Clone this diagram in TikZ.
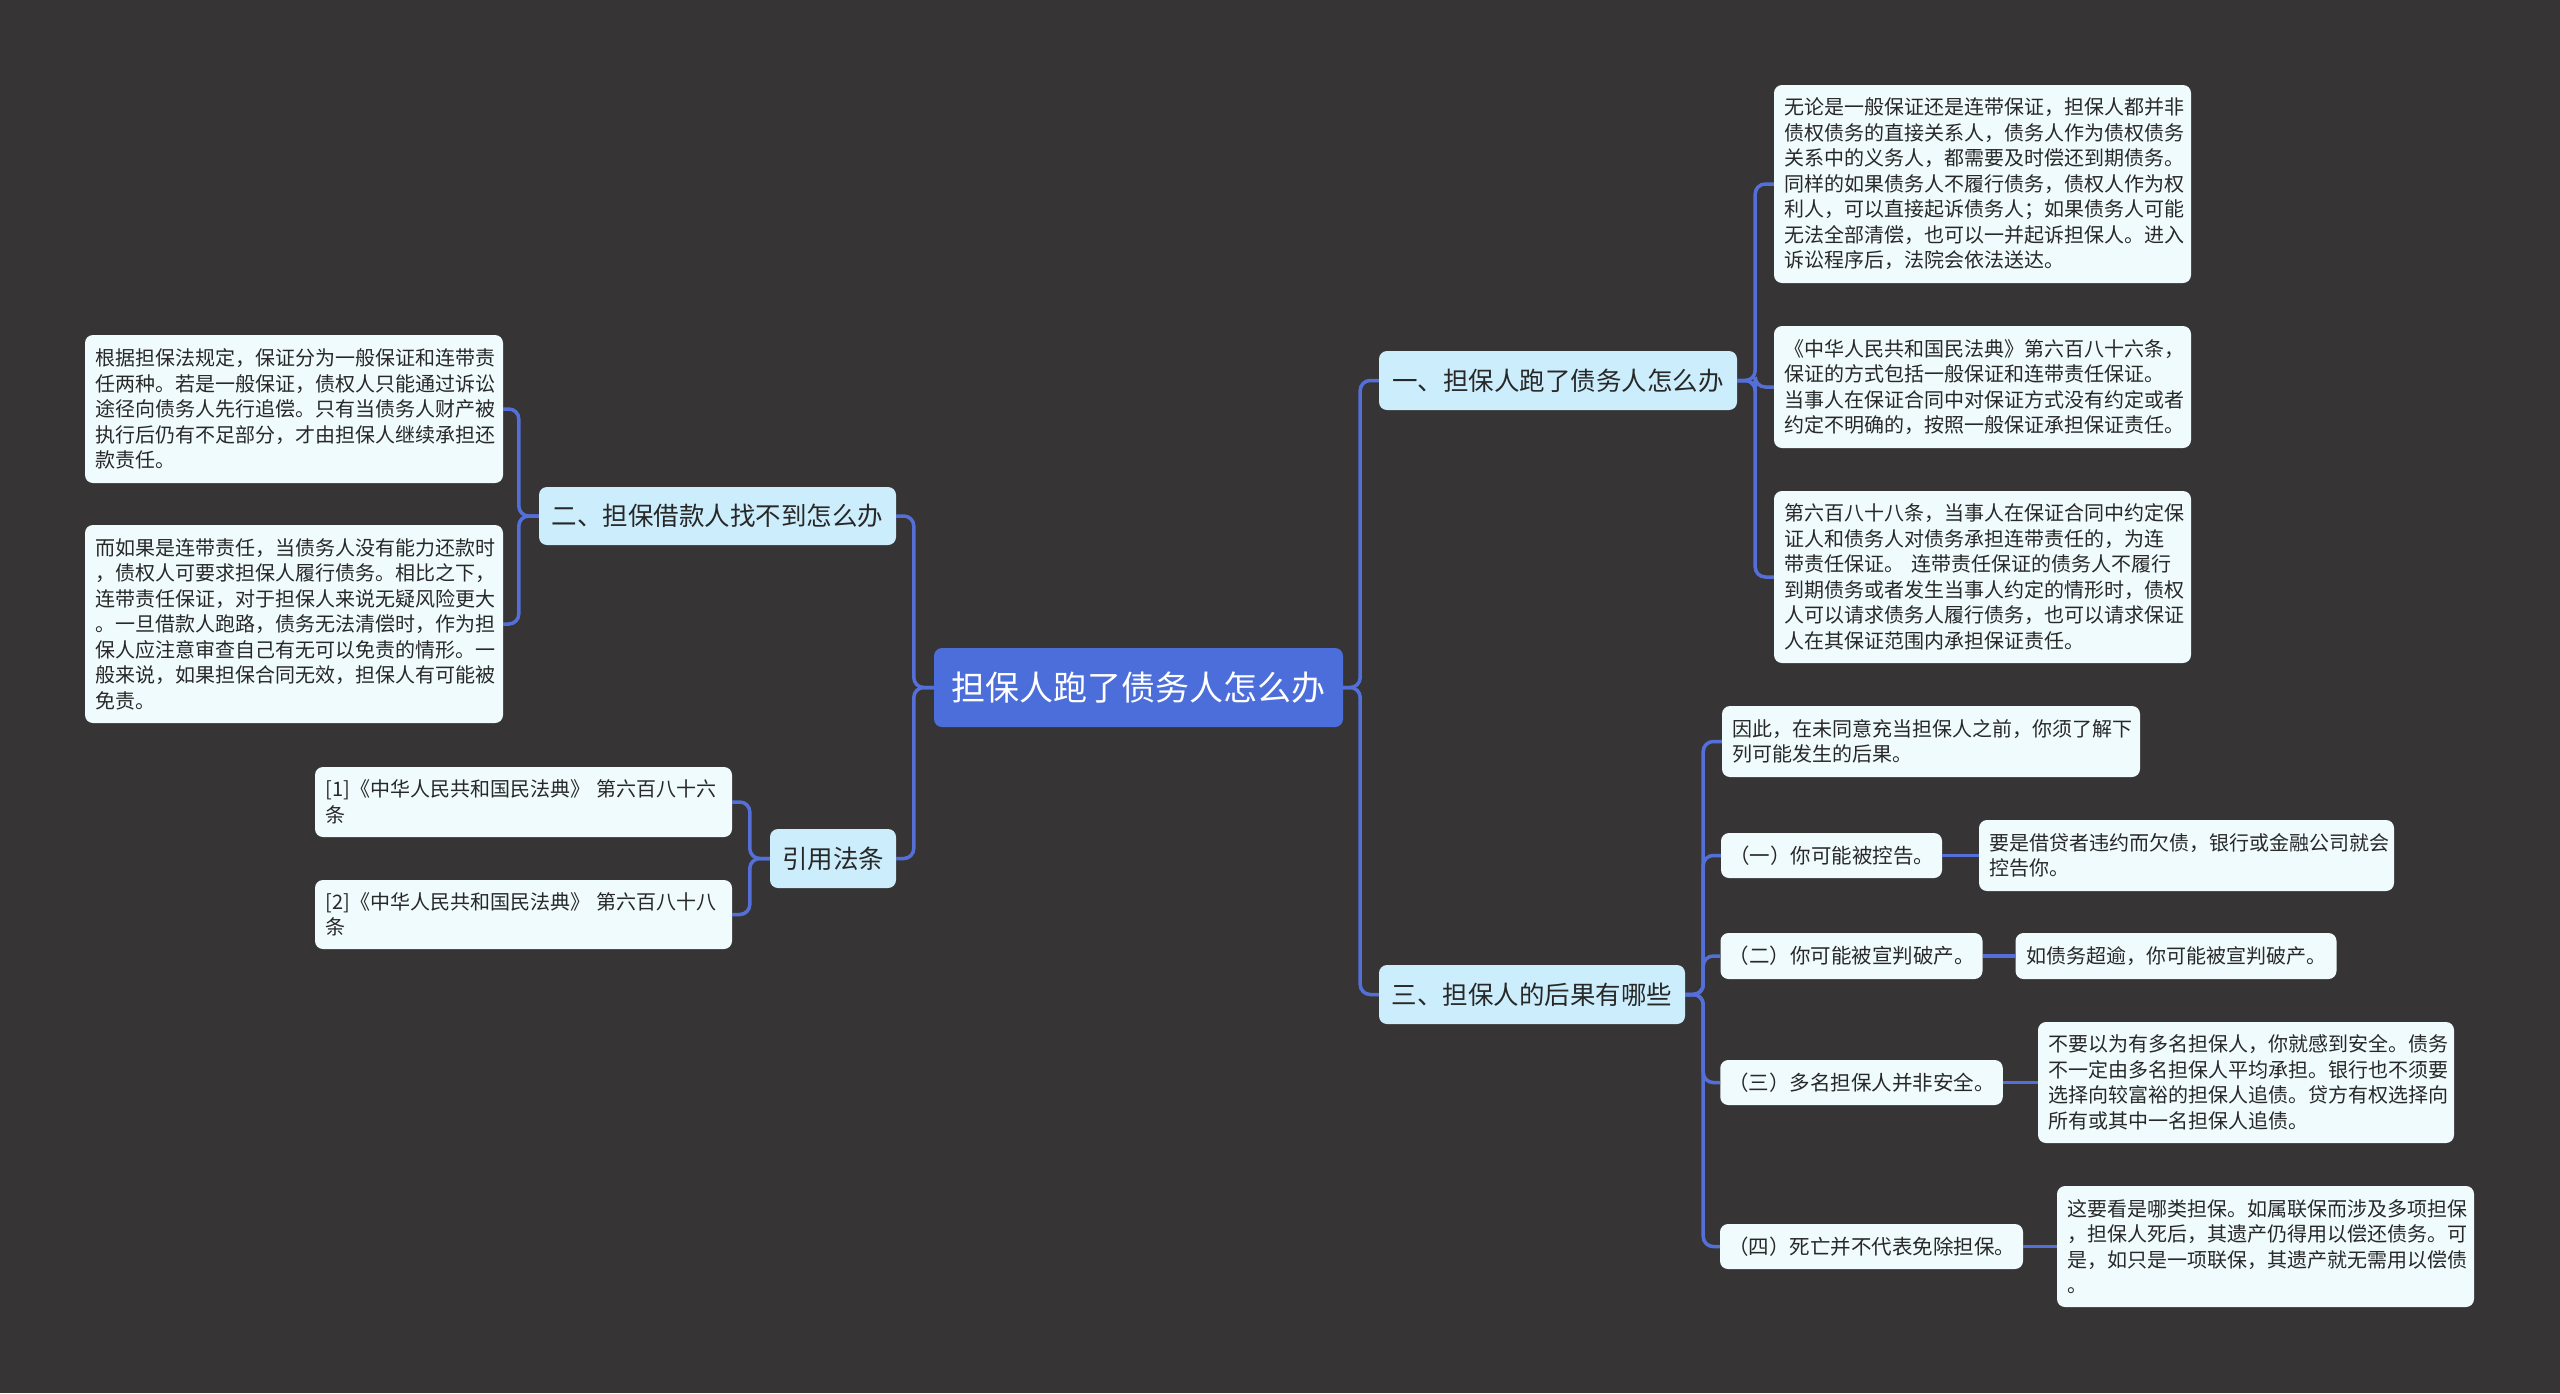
\documentclass[tikz,border=0pt]{standalone}
\usepackage{fontspec}
\setmainfont{Noto Sans CJK SC}
\definecolor{bgc}{RGB}{54,52,53}
\definecolor{rootc}{RGB}{76,110,219}
\definecolor{lvlc}{RGB}{204,238,252}
\definecolor{leafc}{RGB}{240,251,254}
\definecolor{linec}{RGB}{84,112,216}
\definecolor{txtc}{RGB}{40,40,40}
\begin{document}
\begin{tikzpicture}[x=1pt,y=-1pt,
  base/.style={rounded corners=8pt, inner xsep=8pt, inner ysep=3pt},
  rootbox/.style={base, fill=rootc, text=white, font=\fontsize{34}{40}\selectfont},
  lvlbox/.style={base, fill=lvlc, text=txtc, font=\fontsize{25.5}{30}\selectfont},
  leafbox/.style={base, inner xsep=10.5pt, fill=leafc, text=txtc, font=\fontsize{20}{25.5}\selectfont, align=left},
  midbox/.style={base, fill=leafc, text=txtc, font=\fontsize{20.5}{25}\selectfont, align=center},
  conn/.style={draw=linec, line width=3.5pt, rounded corners=10pt}]
\path[fill=bgc] (0,0) rectangle (2560,1393);

% root and first level
\node[rootbox, minimum width=409pt, minimum height=79pt] (root) at (1138.5,687.5) {担保人跑了债务人怎么办};
\node[lvlbox, minimum width=358pt, minimum height=59pt] (n1) at (1558,380.5) {一、担保人跑了债务人怎么办};
\node[lvlbox, minimum width=357pt, minimum height=58pt] (n2) at (717.5,516) {二、担保借款人找不到怎么办};
\node[lvlbox, minimum width=306pt, minimum height=59pt] (n3) at (1532,994.5) {三、担保人的后果有哪些};
\node[lvlbox, minimum width=126pt, minimum height=59pt] (n4) at (833,858.5) {引用法条};

% children of n1
\node[leafbox, minimum width=417pt, minimum height=198pt, text width=396pt] (r1) at (1982.5,184) {无论是一般保证还是连带保证，担保人都并非\\债权债务的直接关系人，债务人作为债权债务\\关系中的义务人，都需要及时偿还到期债务。\\同样的如果债务人不履行债务，债权人作为权\\利人，可以直接起诉债务人；如果债务人可能\\无法全部清偿，也可以一并起诉担保人。进入\\诉讼程序后，法院会依法送达。};
\node[leafbox, minimum width=417pt, minimum height=122pt, text width=396pt] (r2) at (1982.5,387) {《中华人民共和国民法典》第六百八十六条，\\保证的方式包括一般保证和连带责任保证。\\当事人在保证合同中对保证方式没有约定或者\\约定不明确的，按照一般保证承担保证责任。};
\node[leafbox, minimum width=417pt, minimum height=172pt, text width=396pt] (r3) at (1982.5,577) {第六百八十八条，当事人在保证合同中约定保\\证人和债务人对债务承担连带责任的，为连\\带责任保证。~连带责任保证的债务人不履行\\到期债务或者发生当事人约定的情形时，债权\\人可以请求债务人履行债务，也可以请求保证\\人在其保证范围内承担保证责任。};

% children of n2
\node[leafbox, minimum width=418pt, minimum height=148pt, text width=397pt] (l1) at (294,409) {根据担保法规定，保证分为一般保证和连带责\\任两种。若是一般保证，债权人只能通过诉讼\\途径向债务人先行追偿。只有当债务人财产被\\执行后仍有不足部分，才由担保人继续承担还\\款责任。};
\node[leafbox, minimum width=418pt, minimum height=198pt, text width=397pt] (l2) at (294,624) {而如果是连带责任，当债务人没有能力还款时\\，债权人可要求担保人履行债务。相比之下，\\连带责任保证，对于担保人来说无疑风险更大\\。一旦借款人跑路，债务无法清偿时，作为担\\保人应注意审查自己有无可以免责的情形。一\\般来说，如果担保合同无效，担保人有可能被\\免责。};

% children of n4
\node[leafbox, minimum width=417pt, minimum height=70pt, text width=396pt] (c1) at (523.5,802) {[1]《中华人民共和国民法典》~第六百八十六\\条};
\node[leafbox, minimum width=417pt, minimum height=69pt, text width=396pt] (c2) at (523.5,914.5) {[2]《中华人民共和国民法典》~第六百八十八\\条};

% children of n3
\node[leafbox, minimum width=418pt, minimum height=71pt, text width=397pt] (s0) at (1931,741.5) {因此，在未同意充当担保人之前，你须了解下\\列可能发生的后果。};
\node[midbox, minimum width=219pt, minimum height=45pt] (s1) at (1831.5,855.5) {（一）你可能被控告。};
\node[midbox, minimum width=257pt, minimum height=46pt] (s2) at (1851.5,956) {（二）你可能被宣判破产。};
\node[midbox, minimum width=277pt, minimum height=45pt] (s3) at (1861.5,1082.5) {（三）多名担保人并非安全。};
\node[midbox, minimum width=297pt, minimum height=45pt] (s4) at (1871.5,1246.5) {（四）死亡并不代表免除担保。};

\node[leafbox, minimum width=415pt, minimum height=71pt, text width=394pt] (t1) at (2186.5,855.5) {要是借贷者违约而欠债，银行或金融公司就会\\控告你。};
\node[leafbox, minimum width=316pt, minimum height=46pt, text width=300pt] (t2) at (2176,956) {如债务超逾，你可能被宣判破产。};
\node[leafbox, minimum width=416pt, minimum height=121pt, text width=395pt] (t3) at (2246,1082.5) {不要以为有多名担保人，你就感到安全。债务\\不一定由多名担保人平均承担。银行也不须要\\选择向较富裕的担保人追债。贷方有权选择向\\所有或其中一名担保人追债。};
\node[leafbox, minimum width=417pt, minimum height=121pt, text width=396pt] (t4) at (2265.5,1246.5) {这要看是哪类担保。如属联保而涉及多项担保\\，担保人死后，其遗产仍得用以偿还债务。可\\是，如只是一项联保，其遗产就无需用以偿债\\。};

% connectors
\draw[conn] (root.east) -- ++(17,0) |- (n1.west);
\draw[conn] (root.east) -- ++(17,0) |- (n3.west);
\draw[conn] (root.west) -- ++(-20,0) |- (n2.east);
\draw[conn] (root.west) -- ++(-20,0) |- (n4.east);
\draw[conn] (n1.east) -- ++(18,0) |- (r1.west);
\draw[conn] (n1.east) -- ++(18,0) |- (r2.west);
\draw[conn] (n1.east) -- ++(18,0) |- (r3.west);
\draw[conn] (n2.west) -- ++(-20,0) |- (l1.east);
\draw[conn] (n2.west) -- ++(-20,0) |- (l2.east);
\draw[conn] (n4.west) -- ++(-20,0) |- (c1.east);
\draw[conn] (n4.west) -- ++(-20,0) |- (c2.east);
\draw[conn] (n3.east) -- ++(18,0) |- (s0.west);
\draw[conn] (n3.east) -- ++(18,0) |- (s1.west);
\draw[conn] (n3.east) -- ++(18,0) |- (s2.west);
\draw[conn] (n3.east) -- ++(18,0) |- (s3.west);
\draw[conn] (n3.east) -- ++(18,0) |- (s4.west);
\draw[conn] (s1.east) -- (t1.west);
\draw[conn] (s2.east) -- (t2.west);
\draw[conn] (s3.east) -- (t3.west);
\draw[conn] (s4.east) -- (t4.west);
\end{tikzpicture}
\end{document}
